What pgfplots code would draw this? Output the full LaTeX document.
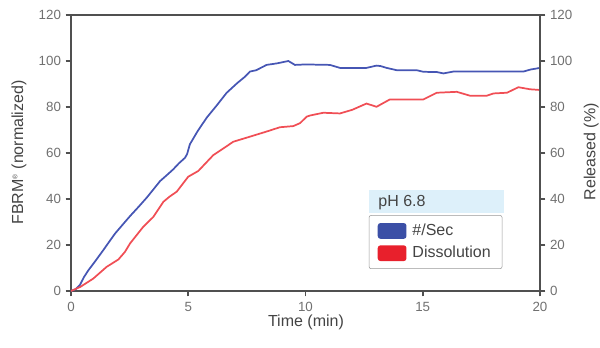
\documentclass[border=0pt]{standalone}
\usepackage{fontspec}
\setmainfont{Liberation Sans}
\usepackage{pgfplots}
\pgfplotsset{compat=1.18}
\definecolor{axgray}{HTML}{505050}
\definecolor{tickgray}{HTML}{707070}
\definecolor{labgray}{HTML}{444444}
\definecolor{lineblue}{HTML}{4656B4}
\definecolor{linered}{HTML}{F04E55}
\definecolor{legblue}{HTML}{3B4FA6}
\definecolor{legred}{HTML}{E8202C}
\definecolor{titlebg}{HTML}{DDF0FA}
\begin{document}
\begin{tikzpicture}
\path[use as bounding box] (-53.25pt,-42pt) rectangle (396.75pt,218.25pt);
\pgfplotsset{
  common/.style={
    width=351.75pt, height=207pt, scale only axis,
    at={(0,0)}, anchor=south west,
    xmin=0, xmax=20, ymin=0, ymax=120,
    enlargelimits=false,
    axis line style={line width=1.9pt, color=axgray},
    tick align=outside,
    major tick length=4pt,
    every tick/.style={line width=1.3pt, color=axgray},
    ticklabel style={font=\fontsize{10}{12}\selectfont, color=tickgray},
    /pgf/number format/assume math mode=true,
    label style={font=\fontsize{12}{14}\selectfont, color=labgray},
  }
}
\begin{axis}[common,
  xtick={0,5,10,15,20}, ytick={0,20,...,120},
  xtick pos=bottom, ytick pos=left,
  xticklabel style={yshift=-1pt},
  xlabel={Time (min)},
  xlabel style={at={(axis description cs:0.501,-0.112)}, anchor=center},
  ylabel={FBRM\textsuperscript{\tiny ®} (normalized)},
  ylabel style={at={(axis description cs:-0.111,0.502)}, anchor=center, rotate=0},
  legend style={at={(axis description cs:0.635,0.08)}, anchor=south west,
    draw=gray!80, rounded corners=1.5pt, fill=white,
    font=\fontsize{12}{14}\selectfont, text=labgray,
    inner xsep=6.5pt, inner ysep=4.5pt, row sep=2.5pt, column sep=2.5pt},
  legend cell align=left,
]
\addplot[lineblue, line width=1.3pt,
  legend image code/.code={\fill[legblue] (0pt,-5.25pt) rectangle (20.25pt,5.25pt);}]
coordinates {
(0,0) (0.2,0.8) (0.38,2.6) (0.55,6) (0.74,9) (1.0,12.5) (1.38,17.8) (1.6,21)
(1.88,25) (2.2,28.8) (2.52,32.6) (2.9,36.8) (3.23,40.6) (3.5,44) (3.8,47.8)
(4.1,50.5) (4.36,52.9) (4.6,55.5) (4.86,57.9) (4.95,59.5) (5.07,63.8) (5.4,69.5)
(5.79,75.4) (6.2,80.5) (6.64,86.2) (7.1,90.5) (7.4,93) (7.63,95.4) (7.9,96)
(8.34,98.3) (8.8,99) (9.27,100) (9.55,98.3) (10,98.5) (11.04,98.3) (11.47,97)
(12.6,97) (13.03,98) (13.2,97.8) (13.46,97) (13.89,96) (14.74,96) (15.03,95.3)
(15.6,95.2) (15.88,94.6) (16.3,95.4) (19.29,95.4) (19.6,96.3) (20,97)
};
\addlegendentry{\#/Sec}
\addplot[linered, line width=1.3pt,
  legend image code/.code={\fill[legred] (0pt,-5.25pt) rectangle (20.25pt,5.25pt);}]
coordinates {
(0,0) (0.4,1.8) (0.95,5.4) (1.52,10.5) (2.02,13.7) (2.3,17) (2.52,20.7)
(3.08,27.9) (3.51,32.2) (3.94,38.8) (4.2,41) (4.51,43.2) (5.0,49.7) (5.43,52.2)
(6.07,59.1) (6.5,62) (6.92,64.9) (7.63,67.1) (8.3,69.2) (8.91,71.2) (9.48,71.7)
(9.77,73) (10.05,75.8) (10.19,76.3) (10.76,77.5) (11.47,77.2) (12.0,78.8)
(12.6,81.5) (13.03,80.1) (13.6,83.3) (15.03,83.3) (15.6,86.2) (16.45,86.6)
(17.02,84.9) (17.73,84.9) (18.02,85.9) (18.59,86.2) (19.08,88.6) (19.58,87.7)
(20,87.4)
};
\addlegendentry{Dissolution}
\fill[titlebg] (axis description cs:0.635,0.283) rectangle (axis description cs:0.923,0.366);
\node[anchor=west, font=\fontsize{12}{14}\selectfont, text=labgray, inner sep=0pt]
  at (axis description cs:0.655,0.322) {pH 6.8};
\end{axis}
\begin{axis}[common,
  axis x line=none, axis y line*=right,
  ytick={0,20,...,120}, ytick pos=right,
  ylabel={Released (\%)},
  ylabel style={at={(axis description cs:1.109,0.505)}, anchor=center, rotate=0},
]
\addplot[draw=none] coordinates {(0,0)};
\end{axis}
\end{tikzpicture}
\end{document}
